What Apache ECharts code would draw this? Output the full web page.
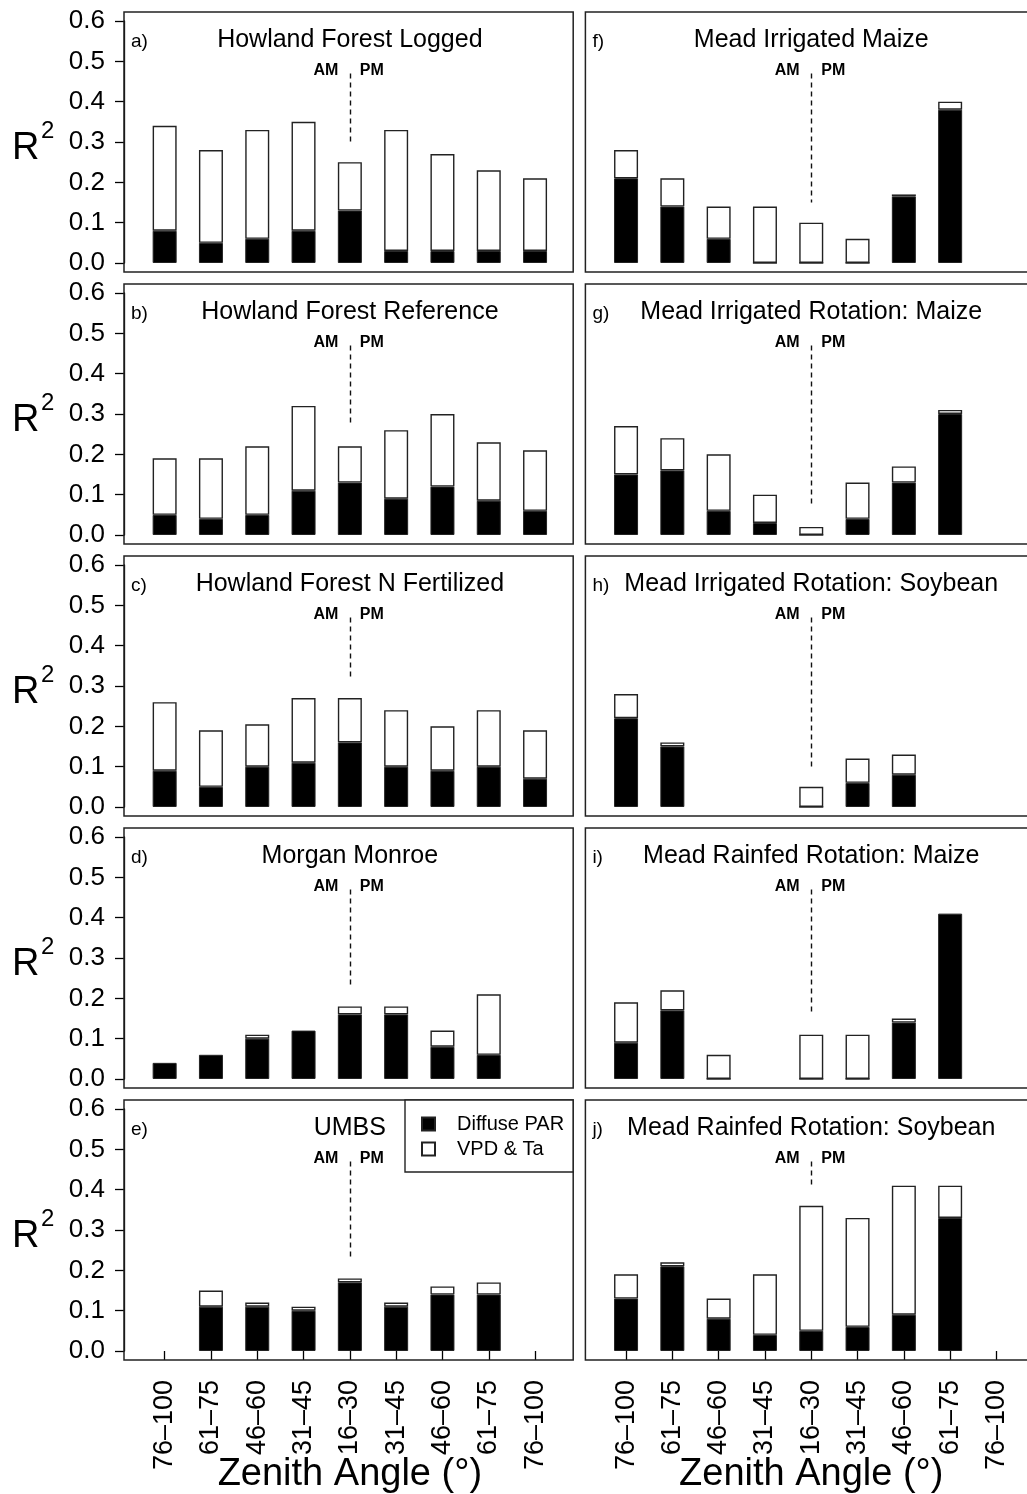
<!DOCTYPE html>
<html><head><meta charset="utf-8">
<script src="https://cdn.jsdelivr.net/npm/echarts@6/dist/echarts.min.js"></script>
<style>html,body{margin:0;padding:0;background:#fff}#c{width:1027px;height:1494px}</style>
</head><body><div id="c"></div><script>
// ---------- data ----------
const categories = ['76–100','61–75','46–60','31–45','16–30','31–45','46–60','61–75','76–100'];
const yTickLabels = ['0.0','0.1','0.2','0.3','0.4','0.5','0.6'];
const panelLetters = ['a)','b)','c)','d)','e)','f)','g)','h)','i)','j)'];
const panelTitles = ['Howland Forest Logged','Howland Forest Reference','Howland Forest N Fertilized','Morgan Monroe','UMBS',
  'Mead Irrigated Maize','Mead Irrigated Rotation: Maize','Mead Irrigated Rotation: Soybean','Mead Rainfed Rotation: Maize','Mead Rainfed Rotation: Soybean'];
const seriesNames = ['Diffuse PAR','VPD & Ta'];

// Diffuse PAR (black) and VPD & Ta (white, stacked on top) R² per panel
const diffuseA = [0.08,0.05,0.06,0.08,0.13,0.03,0.03,0.03,0.03];
const vpdA     = [0.26,0.23,0.27,0.27,0.12,0.30,0.24,0.20,0.18];
const diffuseB = [0.05,0.04,0.05,0.11,0.13,0.09,0.12,0.085,0.06];
const vpdB     = [0.14,0.15,0.17,0.21,0.09,0.17,0.18,0.145,0.15];
const diffuseC = [0.09,0.05,0.10,0.11,0.16,0.10,0.09,0.10,0.07];
const vpdC     = [0.17,0.14,0.105,0.16,0.11,0.14,0.11,0.14,0.12];
const diffuseD = [0.04,0.06,0.10,0.12,0.16,0.16,0.08,0.06,null];
const vpdD     = [null,null,0.01,null,0.02,0.02,0.04,0.15,null];
const diffuseE = [null,0.11,0.11,0.10,0.17,0.11,0.14,0.14,null];
const vpdE     = [null,0.04,0.01,0.01,0.01,0.01,0.02,0.03,null];
const diffuseF = [0.21,0.14,0.06,0,0,0,0.165,0.38,null];
const vpdF     = [0.07,0.07,0.08,0.14,0.10,0.06,0.005,0.02,null];
const diffuseG = [0.15,0.16,0.06,0.03,0,0.04,0.13,0.30,null];
const vpdG     = [0.12,0.08,0.14,0.07,0.02,0.09,0.04,0.01,null];
const diffuseH = [0.22,0.15,null,null,0,0.06,0.08,null,null];
const vpdH     = [0.06,0.01,null,null,0.05,0.06,0.05,null,null];
const diffuseI = [0.09,0.17,0,null,0,0,0.14,0.41,null];
const vpdI     = [0.10,0.05,0.06,null,0.11,0.11,0.01,null,null];
const diffuseJ = [0.13,0.21,0.08,0.04,0.05,0.06,0.09,0.33,null];
const vpdJ     = [0.06,0.01,0.05,0.15,0.31,0.27,0.32,0.08,null];

const diffuseAll = [diffuseA,diffuseB,diffuseC,diffuseD,diffuseE,diffuseF,diffuseG,diffuseH,diffuseI,diffuseJ];
const vpdAll = [vpdA,vpdB,vpdC,vpdD,vpdE,vpdF,vpdG,vpdH,vpdI,vpdJ];

// ---------- layout ----------
const FONT = 'Liberation Sans, Arial, Helvetica, sans-serif';
const COL_LEFT = [141.5, 602.9];
const GRID_W = 416.7;
const GRID_H = 242;
const ROW_TOP0 = 21, ROW_STEP = 272;
const PAD_Y = 9, PAD_L = 17.5, PAD_R = 15;
const Y_MAX = 0.6;

const chart = echarts.init(document.getElementById('c'), null, {renderer: 'canvas'});
const grids = [], xAxes = [], yAxes = [], series = [], graphics = [];

function txt(x, y, text, size, align, extra) {
  return Object.assign({type: 'text', silent: true, z: 10, x: x, y: y,
    style: Object.assign({text: text, fontSize: size, fontFamily: FONT, fill: '#000',
      align: align, verticalAlign: 'middle', textAlign: align, textVerticalAlign: 'middle'}, extra || {})});
}

for (let p = 0; p < 10; p++) {
  const col = p < 5 ? 0 : 1;
  const row = p % 5;
  const left = COL_LEFT[col];
  const top = ROW_TOP0 + ROW_STEP * row;
  const bottomRow = row === 4;
  grids.push({left: left, top: top, width: GRID_W, height: GRID_H, outerBoundsMode: 'none'});
  xAxes.push({
    type: 'category', gridIndex: p, data: categories,
    offset: PAD_Y,
    axisLine: {show: false},
    axisTick: {show: bottomRow, alignWithLabel: true, length: 9, lineStyle: {color: '#000', width: 1.3}},
    axisLabel: {show: bottomRow, interval: 0, rotate: 90, margin: 20, fontSize: 27, color: '#000', fontFamily: FONT},
    splitLine: {show: false}
  });
  yAxes.push({
    type: 'value', gridIndex: p, min: 0, max: Y_MAX, interval: 0.1,
    show: col === 0,
    offset: PAD_L,
    axisLine: {show: true, lineStyle: {color: '#000', width: 1.3}},
    axisTick: {show: true, length: 9, lineStyle: {color: '#000', width: 1.3}},
    axisLabel: {margin: 19, fontSize: 26, color: '#000', fontFamily: FONT,
      formatter: v => yTickLabels[Math.round(v * 10)]},
    splitLine: {show: false}
  });
  const d = diffuseAll[p], v = vpdAll[p];
  const mid = 4;
  const midTop = (d[mid] || 0) + (v[mid] || 0);
  series.push({
    type: 'bar', name: seriesNames[0], xAxisIndex: p, yAxisIndex: p, stack: 's' + p,
    data: d, barWidth: 24, silent: true,
    itemStyle: {color: '#000', borderColor: '#222', borderWidth: 1}
  });
  series.push({
    type: 'bar', name: seriesNames[1], xAxisIndex: p, yAxisIndex: p, stack: 's' + p,
    data: v, barWidth: 24, silent: true,
    itemStyle: {color: '#fff', borderColor: '#222', borderWidth: 1.4},
    markLine: {
      silent: true, symbol: 'none', label: {show: false},
      lineStyle: {type: [5, 4], color: '#111', width: 1.4},
      data: [[{coord: [mid, 0.47]}, {coord: [mid, midTop + 0.05]}]]
    }
  });
  // frame
  const fx = left - PAD_L, fy = top - PAD_Y;
  graphics.push({type: 'rect', silent: true, z: 1,
    shape: {x: fx, y: fy, width: GRID_W + PAD_L + (col === 0 ? PAD_R : 40), height: GRID_H + 2 * PAD_Y},
    style: {fill: null, stroke: '#222', lineWidth: 1.5}});
  const cx = left + GRID_W / 2;
  graphics.push(txt(cx, top + 19, panelTitles[p], 25, 'center'));
  graphics.push(txt(fx + 7, top + 21, panelLetters[p], 19, 'left'));
  const amY = top + GRID_H * (1 - 0.476 / Y_MAX);
  graphics.push(txt(cx - 24, amY, 'AM', 16, 'center', {fontWeight: 'bold'}));
  graphics.push(txt(cx + 22, amY, 'PM', 16, 'center', {fontWeight: 'bold'}));
  if (col === 0) {
    graphics.push(txt(12, top + 128, 'R', 38, 'left'));
    graphics.push(txt(41, top + 110, '2', 24, 'left'));
  }
  if (bottomRow) {
    graphics.push(txt(cx, 1475, 'Zenith Angle (°)', 38, 'center'));
  }
}

chart.setOption({
  animation: false,
  backgroundColor: '#fff',
  grid: grids, xAxis: xAxes, yAxis: yAxes, series: series,
  legend: {
    data: seriesNames, orient: 'vertical', left: 405, top: 1100,
    itemWidth: 13, itemHeight: 13, itemGap: 5, icon: 'rect',
    padding: [14, 9, 13, 16], selectedMode: false,
    backgroundColor: '#fff', borderColor: '#222', borderWidth: 1.4,
    textStyle: {fontSize: 20, color: '#000', fontFamily: FONT, padding: [0, 0, 0, 17]}
  },
  graphic: graphics
});
</script></body></html>
